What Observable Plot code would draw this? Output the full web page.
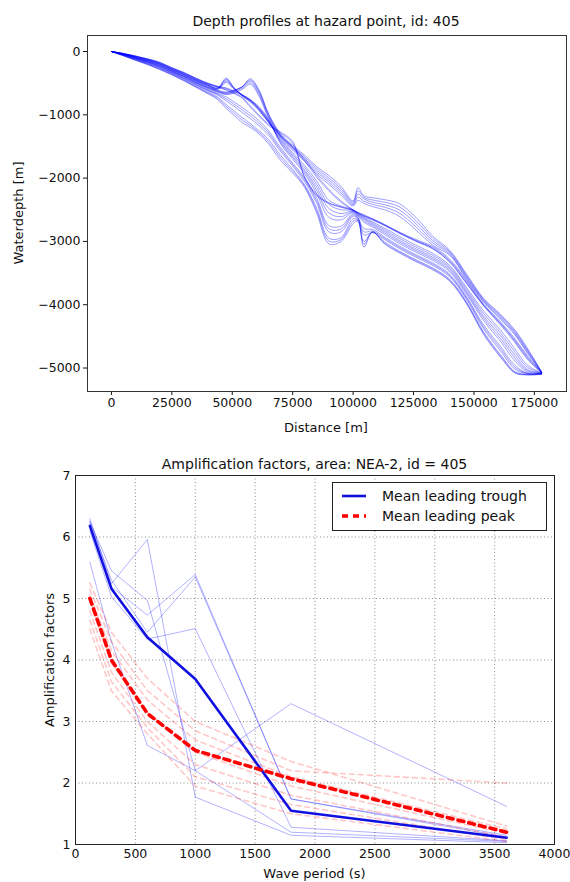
<!DOCTYPE html>
<html><head><meta charset="utf-8">
<script src="https://cdn.jsdelivr.net/npm/d3@7"></script>
<script src="https://cdn.jsdelivr.net/npm/@observablehq/plot@0.6"></script>
<style>
body{margin:0;background:#fff;font-family:"DejaVu Sans",sans-serif;}
#wrap{position:relative;width:570px;height:882px;overflow:hidden;background:#fff}
#wrap svg.chart{position:absolute;left:0}
.t{position:absolute;white-space:nowrap;color:#111;font-size:13px;transform:translate(-50%,-50%);line-height:1}
.rot{transform:translate(-50%,-50%) rotate(-90deg)}
#legend{position:absolute;left:332px;top:482px;width:215px;height:49px;box-sizing:border-box;border:1px solid #222;background:#fff}
.lrow{position:absolute;left:0;height:20px;display:flex;align-items:center;font-size:14px;color:#111}
.lrow svg{margin-left:9px;margin-right:16px}
</style></head><body><div id="wrap"></div><script>
// ---------- Top chart: depth profiles ----------
const distance = [0,5000,10000,15000,20000,25000,30000,35000,40000,44000,47500,50500,54000,57500,61000,65000,70000,75000,80000,85000,90000,95000,100000,102000,104500,108000,113000,119000,126000,133000,140000,147000,154000,161000,167000,172000,178000];
const p01 = [0,-30,-70,-115,-170,-255,-330,-420,-500,-548,-575,-620,-680,-760,-900,-1100,-1330,-1500,-1700,-1960,-2180,-2360,-2500,-2540,-2580,-2640,-2730,-2850,-2970,-3080,-3280,-3620,-3990,-4270,-4540,-4800,-5070];
const p02 = [0,-33,-76,-123,-180,-265,-342,-432,-512,-560,-600,-650,-720,-860,-1000,-1150,-1270,-1420,-2000,-2280,-2400,-2460,-2510,-2550,-2600,-2650,-2740,-2860,-2990,-3110,-3320,-3660,-4010,-4300,-4580,-4840,-5075];
const p03 = [0,-36,-82,-131,-190,-275,-354,-444,-524,-572,-420,-560,-700,-800,-930,-1120,-1380,-1600,-1800,-2050,-2350,-2440,-2500,-2560,-2620,-2690,-2790,-2920,-3060,-3190,-3380,-3730,-4100,-4400,-4700,-4950,-5080];
const p04 = [0,-39,-88,-139,-200,-284,-365,-455,-536,-585,-450,-570,-690,-780,-900,-1090,-1420,-1650,-1870,-2150,-2480,-2560,-2520,-2580,-2650,-2730,-2840,-2980,-3120,-3250,-3430,-3790,-4180,-4490,-4800,-5020,-5080];
const p05 = [0,-42,-93,-146,-209,-293,-375,-466,-548,-598,-490,-590,-680,-760,-870,-1070,-1460,-1700,-1930,-2250,-2620,-2660,-2540,-2600,-2700,-2770,-2890,-3030,-3170,-3300,-3480,-3840,-4250,-4580,-4890,-5060,-5085];
const p06 = [0,-45,-98,-153,-218,-302,-385,-477,-560,-612,-640,-610,-560,-430,-600,-980,-1300,-1480,-1640,-1820,-1960,-2130,-2360,-2150,-2280,-2310,-2340,-2400,-2620,-2920,-3140,-3520,-3900,-4150,-4400,-4680,-5060];
const p07 = [0,-48,-104,-161,-228,-312,-396,-489,-574,-628,-660,-630,-560,-470,-640,-1010,-1330,-1520,-1690,-1880,-2030,-2200,-2400,-2250,-2330,-2380,-2420,-2500,-2720,-2990,-3180,-3560,-3930,-4190,-4440,-4720,-5065];
const p08 = [0,-51,-110,-169,-238,-322,-408,-502,-589,-645,-680,-660,-600,-520,-700,-1050,-1360,-1560,-1740,-1940,-2100,-2270,-2440,-2350,-2400,-2450,-2500,-2600,-2820,-3060,-3220,-3600,-3960,-4230,-4480,-4760,-5070];
const p09 = [0,-55,-117,-178,-249,-333,-421,-516,-606,-665,-720,-790,-880,-980,-1090,-1250,-1520,-1760,-2000,-2320,-2750,-2760,-2560,-2620,-2800,-2810,-2930,-3070,-3210,-3340,-3520,-3880,-4320,-4660,-4960,-5080,-5085];
const p10 = [0,-59,-124,-187,-260,-344,-434,-531,-625,-690,-780,-860,-960,-1060,-1170,-1320,-1580,-1810,-2060,-2400,-2850,-2850,-2600,-2640,-2900,-2860,-2970,-3110,-3250,-3380,-3560,-3920,-4380,-4730,-5020,-5090,-5090];
const p11 = [0,-64,-132,-197,-272,-356,-448,-548,-646,-722,-840,-930,-1040,-1140,-1250,-1390,-1640,-1860,-2110,-2480,-2950,-2940,-2640,-2660,-3000,-2850,-3010,-3150,-3290,-3420,-3600,-3960,-4430,-4790,-5060,-5100,-5095];
const p12 = [0,-70,-140,-208,-285,-370,-464,-567,-670,-760,-900,-1000,-1120,-1200,-1300,-1460,-1720,-1920,-2150,-2560,-3040,-3000,-2720,-2680,-3090,-2850,-3040,-3180,-3320,-3450,-3630,-3990,-4470,-4830,-5080,-5110,-5100];
const p13 = [0,-31,-72,-118,-173,-258,-334,-425,-505,-552,-585,-630,-690,-775,-920,-1120,-1340,-1520,-1730,-1990,-2200,-2380,-2505,-2545,-2590,-2650,-2740,-2860,-2985,-3100,-3300,-3640,-4005,-4290,-4560,-4820,-5072];
const p14 = [0,-34,-78,-125,-183,-268,-345,-436,-516,-565,-610,-660,-735,-880,-1020,-1170,-1290,-1450,-1980,-2260,-2390,-2455,-2508,-2552,-2605,-2660,-2750,-2870,-3000,-3120,-3330,-3670,-4020,-4320,-4600,-4860,-5076];
const p15 = [0,-37,-85,-135,-195,-280,-360,-450,-530,-578,-435,-565,-695,-790,-915,-1105,-1400,-1625,-1835,-2100,-2415,-2500,-2510,-2570,-2635,-2710,-2815,-2950,-3090,-3220,-3405,-3760,-4140,-4445,-4750,-4985,-5080];
const p16 = [0,-46,-101,-157,-223,-307,-390,-483,-567,-620,-650,-620,-560,-450,-620,-995,-1315,-1500,-1665,-1850,-1995,-2165,-2380,-2200,-2305,-2345,-2380,-2450,-2670,-2955,-3160,-3540,-3915,-4170,-4420,-4700,-5062];
const p17 = [0,-57,-120,-182,-254,-338,-427,-523,-615,-677,-750,-825,-920,-1020,-1130,-1285,-1550,-1785,-2030,-2360,-2800,-2805,-2580,-2630,-2850,-2835,-2950,-3090,-3230,-3360,-3540,-3900,-4350,-4695,-4990,-5085,-5088];
const p18 = [0,-67,-136,-202,-278,-363,-456,-557,-658,-741,-870,-965,-1080,-1170,-1275,-1425,-1680,-1890,-2130,-2520,-2995,-2970,-2680,-2670,-3045,-2850,-3025,-3165,-3305,-3435,-3615,-3975,-4450,-4810,-5070,-5105,-5098];
const p19 = [0,-50,-107,-165,-233,-317,-402,-495,-581,-636,-670,-645,-580,-495,-670,-1030,-1345,-1540,-1715,-1910,-2065,-2235,-2420,-2300,-2365,-2415,-2460,-2550,-2770,-3025,-3200,-3580,-3945,-4210,-4460,-4740,-5068];
const p20 = [0,-40,-90,-142,-204,-288,-370,-460,-542,-591,-470,-580,-685,-770,-885,-1080,-1440,-1675,-1900,-2200,-2550,-2610,-2530,-2590,-2675,-2750,-2865,-3005,-3145,-3275,-3455,-3815,-4215,-4535,-4845,-5040,-5082];
const distanceTicks = [0,25000,50000,75000,100000,125000,150000,175000];
const depthTicks = [0,-1000,-2000,-3000,-4000,-5000];

// ---------- Bottom chart: amplification factors ----------
const period = [120,300,600,1000,1800,3600];
const troughMean = [6.18,5.16,4.37,3.69,1.55,1.11];
const peakMean = [5.0,4.0,3.13,2.53,2.07,1.2];
const trough1 = [6.3,5.24,5.96,1.77,1.15,1.03];
const trough2 = [6.25,5.45,4.97,2.2,1.2,1.05];
const trough3 = [6.2,5.19,4.73,5.39,1.74,1.12];
const trough4 = [6.1,5.03,4.34,4.51,1.28,1.06];
const trough5 = [5.59,4.3,2.61,2.2,3.29,1.62];
const trough6 = [6.25,5.3,4.45,5.35,1.74,1.15];
const peak1 = [5.25,4.45,3.7,3.0,2.35,1.3];
const peak2 = [5.15,4.3,3.5,2.85,2.2,2.0];
const peak3 = [5.05,4.15,3.35,2.7,2.1,1.25];
const peak4 = [4.95,3.95,3.15,2.5,1.95,1.18];
const peak5 = [4.8,3.8,3.0,2.3,1.8,1.12];
const peak6 = [4.65,3.65,2.9,2.1,1.65,1.08];
const peak7 = [4.5,3.5,2.8,1.95,1.5,1.05];
const periodTicks = [0,500,1000,1500,2000,2500,3000,3500,4000];
const factorTicks = [1,2,3,4,5,6,7];

const wrap = document.getElementById("wrap");
const fmt = d3.format("d");

const profiles = [p01,p02,p03,p04,p05,p06,p07,p08,p09,p10,p11,p12,p13,p14,p15,p16,p17,p18,p19,p20];
const depthRows = profiles.flatMap((p, i) => p.map((v, j) => ({id: i, x: distance[j], y: v})));

const topChart = Plot.plot({
  width: 570, height: 440,
  marginLeft: 87, marginRight: 4, marginTop: 35, marginBottom: 49,
  style: {fontFamily: "DejaVu Sans", fontSize: "12.5px", color: "#111", background: "transparent", overflow: "visible"},
  x: {domain: [-9900, 188300]},
  y: {domain: [-5371, 253]},
  marks: [
    Plot.line(depthRows, {x: "x", y: "y", z: "id", stroke: "#0000ff", strokeOpacity: 0.38, strokeWidth: 1, curve: "catmull-rom"}),
    Plot.axisX(distanceTicks, {tickSize: 4, tickPadding: 3, tickFormat: fmt, label: null}),
    Plot.axisY(depthTicks, {tickSize: 4, tickPadding: 3, tickFormat: fmt, label: null}),
    Plot.frame({stroke: "#333"})
  ]
});
topChart.classList.add("chart");
topChart.style.top = "0px";
wrap.appendChild(topChart);

const rows = (series, id) => period.map((p, i) => ({x: p, y: series[i], id}));
const thinTrough = [trough1,trough2,trough3,trough4,trough5,trough6].flatMap((s, i) => rows(s, i));
const thinPeak = [peak1,peak2,peak3,peak4,peak5,peak6,peak7].flatMap((s, i) => rows(s, i));

const bottomChart = Plot.plot({
  width: 570, height: 442,
  marginLeft: 75, marginRight: 16, marginTop: 35, marginBottom: 38,
  style: {fontFamily: "DejaVu Sans", fontSize: "12.5px", color: "#111", background: "transparent", overflow: "visible"},
  x: {domain: [0, 4000]},
  y: {domain: [1, 7]},
  marks: [
    Plot.gridX(periodTicks, {stroke: "#000", strokeOpacity: 0.45, strokeDasharray: "1,2.5"}),
    Plot.gridY(factorTicks, {stroke: "#000", strokeOpacity: 0.45, strokeDasharray: "1,2.5"}),
    Plot.axisX(periodTicks, {tickSize: 0, tickPadding: 5, tickFormat: fmt, label: null}),
    Plot.axisY(factorTicks, {tickSize: 0, tickPadding: 5, tickFormat: fmt, label: null}),
    Plot.line(thinTrough, {x: "x", y: "y", z: "id", stroke: "#0000ff", strokeOpacity: 0.3, strokeWidth: 1}),
    Plot.line(thinPeak, {x: "x", y: "y", z: "id", stroke: "#ff0000", strokeOpacity: 0.22, strokeWidth: 1.6, strokeDasharray: "5,4"}),
    Plot.line(rows(troughMean, "t"), {x: "x", y: "y", stroke: "#1010e0", strokeWidth: 2.6}),
    Plot.line(rows(peakMean, "p"), {x: "x", y: "y", stroke: "#ff0000", strokeWidth: 3.6, strokeDasharray: "6,5"}),
    Plot.frame({stroke: "#222"})
  ]
});
bottomChart.classList.add("chart");
bottomChart.style.top = "440px";
wrap.appendChild(bottomChart);

function label(text, x, y, size, rot) {
  const d = document.createElement("div");
  d.className = "t" + (rot ? " rot" : "");
  d.textContent = text;
  d.style.left = x + "px";
  d.style.top = y + "px";
  d.style.fontSize = size + "px";
  wrap.appendChild(d);
}
label("Depth profiles at hazard point, id: 405", 326, 20.5, 14);
label("Distance [m]", 326, 427, 13);
label("Waterdepth [m]", 18, 213, 13, true);
label("Amplification factors, area: NEA-2, id = 405", 314.5, 464, 14);
label("Wave period (s)", 314.5, 873, 13);
label("Amplification factors", 49, 660, 13, true);

const legend = document.createElement("div");
legend.id = "legend";
legend.innerHTML =
  '<div class="lrow" style="top:3px"><svg width="24" height="6"><line x1="0" y1="3" x2="24" y2="3" stroke="#1010e0" stroke-width="2.6"/></svg><span>Mean leading trough</span></div>' +
  '<div class="lrow" style="top:23px"><svg width="24" height="6"><line x1="0" y1="3" x2="24" y2="3" stroke="#ff0000" stroke-width="3.6" stroke-dasharray="6,5"/></svg><span>Mean leading peak</span></div>';
wrap.appendChild(legend);
</script></body></html>
